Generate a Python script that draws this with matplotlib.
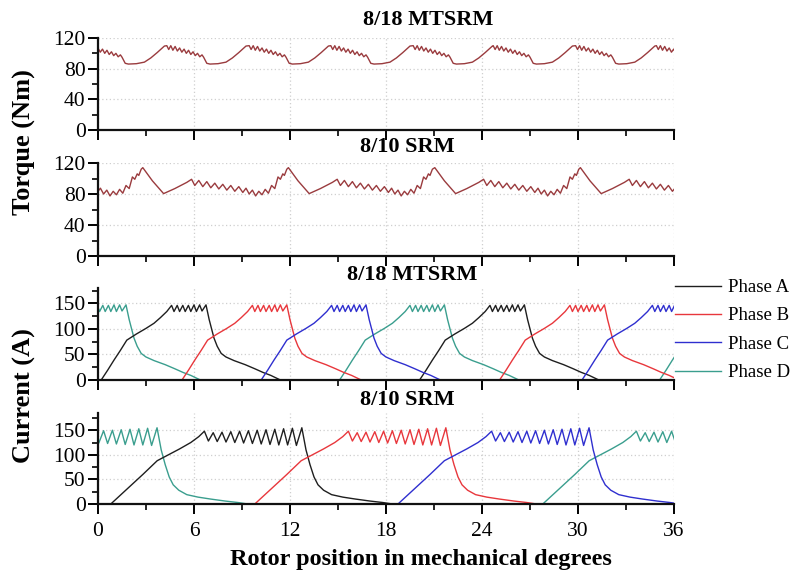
import matplotlib
matplotlib.use("Agg")
import matplotlib.pyplot as plt
from matplotlib.ticker import MultipleLocator

plt.rcParams['font.family'] = ['Liberation Serif', 'DejaVu Serif']

# ---------------- data ----------------
# Torque of the 8/18 MTSRM: one stroke (5.1 deg) measured from its peak
mts_torque_t = [0.0, 0.12, 0.25, 0.38, 0.52, 0.66, 0.80, 0.94, 1.08, 1.22, 1.36,
                1.50, 1.64, 1.78, 1.92, 2.06, 2.20, 2.30, 2.50, 2.70, 3.20, 3.70,
                4.10, 4.50, 4.95]
mts_torque_v = [110, 105, 110, 104, 109, 103, 107, 101.5, 105.5, 100, 104,
                98.5, 102, 97, 100, 95.5, 98, 95, 87, 86, 86.5, 88.5,
                94, 101, 109.5]
mts_torque_peaks = [-0.8, 4.3, 9.45, 14.55, 19.7, 24.7, 29.85, 34.9]

# Torque of the 8/10 SRM: one stroke (9.1 deg) measured from its peak
srm_torque_t = [0.0, 0.6, 1.3, 2.0, 2.75, 3.05, 3.25, 3.5, 3.75, 4.0, 4.25, 4.5,
                4.75, 5.0, 5.25, 5.5, 5.75, 6.0, 6.25, 6.45, 6.65, 6.85, 7.05,
                7.25, 7.45, 7.65, 7.85, 8.05, 8.25, 8.45, 8.6, 8.75, 8.85, 9.0]
srm_torque_v = [114, 97, 80.5, 87, 95, 99, 91, 97.5, 89.5, 96, 88, 94,
                86.5, 92.5, 85, 91, 83.5, 89.5, 82, 87.5, 80, 85, 77.5,
                83.5, 79, 86, 81, 91, 87, 102, 99, 106, 104, 112]
srm_torque_peaks = [-6.3, 2.8, 11.9, 21.05, 30.15]

# Phase current pulse of the 8/18 MTSRM, angle measured from turn-on
mts_current_t = [0.0, 0.4, 0.8, 1.2, 1.6, 2.2, 2.8, 3.3, 3.7, 4.1, 4.4,
                 4.55, 4.75, 4.9, 5.1, 5.25, 5.45, 5.6, 5.8, 5.95, 6.15, 6.3, 6.55,
                 6.75, 7.05, 7.25, 7.5, 7.8, 8.3, 9.0, 9.6, 10.1, 10.6, 11.2]
mts_current_v = [0, 19, 39, 58, 78, 90, 101, 111, 122, 134, 146,
                 134, 146, 134, 146, 134, 146, 134, 147, 134, 147, 135, 147,
                 118, 82, 66, 52, 45, 38, 30, 22, 15, 9, 0]
mts_onsets = {
    'Phase A': [0.2, 20.1],
    'Phase B': [5.25, 25.1],
    'Phase C': [10.2, 30.25],
    'Phase D': [-4.8, 15.1, 35.1],
}

# Phase current pulse of the 8/10 SRM, angle measured from turn-on
srm_current_t = [0.0, 1.0, 2.0, 2.9, 3.6, 4.3, 5.0, 5.5, 5.85,
                 6.1, 6.4, 6.65, 6.95, 7.2, 7.5, 7.75, 8.05, 8.3, 8.6, 8.85,
                 9.15, 9.4, 9.7, 9.95, 10.25, 10.5, 10.8, 11.05, 11.35, 11.6, 11.94,
                 12.2, 12.45, 12.7, 12.95, 13.3, 13.8, 14.5, 15.3, 16.2, 17.0, 17.6]
srm_current_v = [0, 30, 60, 88, 100, 112, 125, 137, 148,
                 128, 145, 127, 146, 126, 147, 125, 148, 124, 149, 123,
                 150, 122, 151, 121, 152, 120, 153, 120, 154, 119, 155,
                 110, 80, 55, 39, 28, 19, 14, 10, 6, 3, 0]
srm_onsets = {
    'Phase A': [0.8],
    'Phase B': [9.8],
    'Phase C': [18.75],
    'Phase D': [-8.25, 27.8],
}

phases = ['Phase A', 'Phase B', 'Phase C', 'Phase D']
phase_colors = {'Phase A': '#1e1e1e', 'Phase B': '#e8373c',
                'Phase C': '#2f2fcf', 'Phase D': '#3a9e8e'}
draw_order = ['Phase D', 'Phase A', 'Phase B', 'Phase C']
torque_color = '#9a3b3e'

x_ticks = [0, 6, 12, 18, 24, 30, 36]


def periodic_curve(shape_t, shape_v, peaks):
    xs, ys = [], []
    for p in peaks:
        xs.extend(p + t for t in shape_t)
        ys.extend(shape_v)
    return xs, ys


def pulse_curve(shape_t, shape_v, onsets):
    xs, ys = [-30.0], [0.0]
    for s in onsets:
        xs.extend(s + t for t in shape_t)
        ys.extend(shape_v)
    xs.append(70.0)
    ys.append(0.0)
    return xs, ys


# ---------------- figure ----------------
W, H = 791, 574
fig = plt.figure(figsize=(W / 100, H / 100), dpi=100)


def add_panel(top_px, bottom_px):
    left, right = 98, 674
    return fig.add_axes([left / W, 1 - bottom_px / H,
                         (right - left) / W, (bottom_px - top_px) / H])


ax1 = add_panel(38, 130)
ax2 = add_panel(163, 256)
ax3 = add_panel(288, 380)
ax4 = add_panel(413, 504)
axes = [ax1, ax2, ax3, ax4]

for ax in axes:
    ax.set_xlim(0, 36)
    ax.xaxis.set_major_locator(MultipleLocator(6))
    ax.xaxis.set_minor_locator(MultipleLocator(3))
    for side in ('top', 'right'):
        ax.spines[side].set_visible(False)
    for side in ('left', 'bottom'):
        ax.spines[side].set_linewidth(1.6)
        ax.spines[side].set_color('#111111')
    ax.tick_params(which='major', direction='out', length=7, width=1.4,
                   labelsize=15.5, pad=2)
    ax.tick_params(which='minor', direction='out', length=4.5, width=1.2)
    ax.grid(True, which='major', linestyle=(0, (1, 2)), color='#cfcfcf',
            linewidth=0.9)
    ax.set_axisbelow(True)
    if ax is not ax4:
        ax.tick_params(axis='x', labelbottom=False)

for ax in (ax1, ax2):
    ax.set_ylim(0, 120)
    ax.yaxis.set_major_locator(MultipleLocator(40))
    ax.yaxis.set_minor_locator(MultipleLocator(20))
ax3.set_ylim(0, 180)
ax4.set_ylim(0, 185)
for ax in (ax3, ax4):
    ax.yaxis.set_major_locator(MultipleLocator(50))
    ax.yaxis.set_minor_locator(MultipleLocator(25))

ax4.set_xticks(x_ticks)
ax4.set_xticklabels([str(v) for v in x_ticks])
ax4.tick_params(axis='x', which='major', pad=6)

# torque curves
x, y = periodic_curve(mts_torque_t, mts_torque_v, mts_torque_peaks)
ax1.plot(x, y, color=torque_color, lw=1.0)
x, y = periodic_curve(srm_torque_t, srm_torque_v, srm_torque_peaks)
ax2.plot(x, y, color=torque_color, lw=1.0)

# phase currents
handles = {}
for name in draw_order:
    x, y = pulse_curve(mts_current_t, mts_current_v, mts_onsets[name])
    handles[name], = ax3.plot(x, y, color=phase_colors[name], lw=1.0,
                              label=name)
    x, y = pulse_curve(srm_current_t, srm_current_v, srm_onsets[name])
    ax4.plot(x, y, color=phase_colors[name], lw=1.0)

# panel titles
title_kw = dict(fontsize=16, fontweight='bold', ha='center', va='center')
fig.text(428 / W, 1 - 20 / H, '8/18 MTSRM', **title_kw)
fig.text(407 / W, 1 - 147 / H, '8/10 SRM', **title_kw)
fig.text(412 / W, 1 - 275 / H, '8/18 MTSRM', **title_kw)
fig.text(407 / W, 1 - 400 / H, '8/10 SRM', **title_kw)

# axis labels
fig.text(24 / W, 1 - 142 / H, 'Torque (Nm)', rotation=90, fontsize=19,
         fontweight='bold', ha='center', va='center')
fig.text(24 / W, 1 - 396 / H, 'Current (A)', rotation=90, fontsize=19,
         fontweight='bold', ha='center', va='center')
fig.text(421 / W, 1 - 560 / H, 'Rotor position in mechanical degrees',
         fontsize=17.5, fontweight='bold', ha='center', va='center')

fig.legend([handles[p] for p in phases], phases, loc='upper left',
           bbox_to_anchor=(675 / W, 1 - 279 / H), frameon=False,
           fontsize=13.5, handlelength=2.45, handletextpad=0.35,
           labelspacing=0.6, borderpad=0, borderaxespad=0)

fig.savefig('out.png', dpi=100)
